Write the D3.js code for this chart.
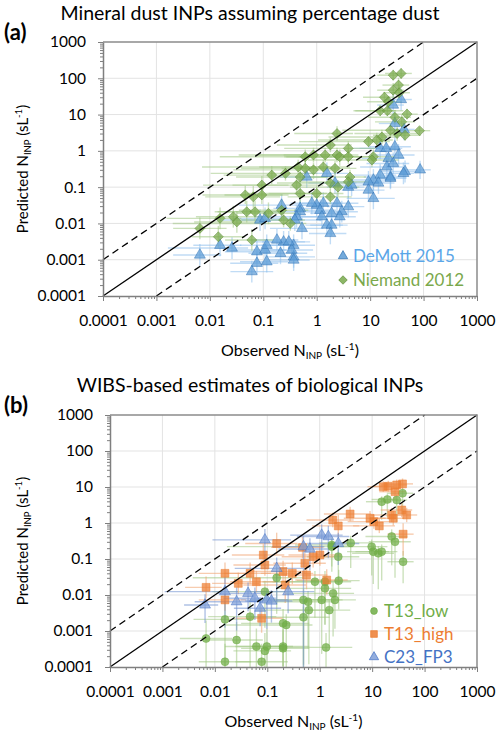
<!DOCTYPE html>
<html><head><meta charset="utf-8">
<script src="https://cdn.jsdelivr.net/npm/d3@7"></script>
<style>
body{margin:0;background:#fff}
svg{display:block}
text{font-family:Lato,"Open Sans",sans-serif}
</style>
</head><body>
<svg id="chart" width="500" height="737"></svg>
<script>
// ---------- axis ticks ----------
const tickValues = [1e-4, 1e-3, 1e-2, 1e-1, 1, 10, 100, 1000];
const tickLabels = ["0.0001", "0.001", "0.01", "0.1", "1", "10", "100", "1000"];

// ---------- data: [observed, predicted, x-err minus (decades), x-err plus, y-err minus, y-err plus] ----------
const demott2015 = [
  [38,26,0.3,0.2,0.3,0.3],[27,18.3,0.3,0.2,0.3,0.3],[29,5.7,0.3,0.2,0.3,0.3],[43,3.9,0.3,0.2,0.3,0.3],
  [15.4,1.17,0.5,0.3,0.3,0.3],[20,1.17,0.5,0.3,0.3,0.3],[29,1.3,0.5,0.3,0.3,0.3],[34,0.77,0.5,0.3,0.3,0.3],
  [22,0.62,0.5,0.3,0.3,0.3],[20.5,0.36,0.5,0.3,0.3,0.3],[27,0.45,0.5,0.3,0.3,0.3],[45,0.27,0.5,0.3,0.3,0.3],
  [86,0.30,0.3,0.2,0.25,0.25],[15.4,0.215,0.5,0.3,0.3,0.3],[24,0.19,0.5,0.3,0.3,0.3],[11.5,0.157,0.5,0.3,0.3,0.3],
  [9.3,0.14,0.6,0.3,0.3,0.3],[14.3,0.13,0.5,0.3,0.3,0.3],[3.9,0.10,0.4,0.3,0.3,0.3],[1.55,0.24,0.5,0.4,0.3,0.3],
  [2.2,0.13,0.5,0.4,0.3,0.3],[0.65,0.19,0.5,0.4,0.3,0.3],[9.3,0.083,0.5,0.3,0.3,0.3],[11.5,0.049,0.5,0.4,0.3,0.3],
  [4.5,0.114,0.4,0.4,0.3,0.3],[3.9,0.029,0.4,0.3,0.3,0.3],[2.4,0.036,0.4,0.4,0.3,0.3],[2.95,0.021,0.4,0.3,0.3,0.3],
  [1.9,0.019,0.4,0.3,0.3,0.3],[2.7,0.0153,0.4,0.3,0.3,0.3],[1.33,0.036,0.4,0.3,0.3,0.3],[1.0,0.032,0.4,0.3,0.3,0.3],
  [0.81,0.036,0.4,0.3,0.3,0.3],[1.16,0.023,0.4,0.3,0.3,0.3],[1.25,0.0153,0.4,0.3,0.3,0.3],[1.55,0.009,0.4,0.3,0.3,0.3],
  [1.9,0.009,0.4,0.3,0.3,0.3],[1.8,0.0053,0.4,0.3,0.3,0.3],[0.49,0.026,0.5,0.4,0.3,0.3],[0.49,0.021,0.5,0.4,0.3,0.3],
  [0.42,0.0153,0.8,0.5,0.3,0.3],[0.53,0.0073,0.6,0.4,0.3,0.3],[0.39,0.0124,1.0,0.5,0.3,0.3],[0.24,0.0031,0.6,0.4,0.3,0.3],
  [0.37,0.0025,0.6,0.4,0.3,0.3],[0.37,0.0012,0.5,0.4,0.3,0.3],[42,0.24,0.4,0.2,0.3,0.3],[24,0.175,0.4,0.3,0.3,0.3],
  [0.22,0.032,0.8,0.5,0.3,0.3],[0.087,0.0124,0.8,0.4,0.3,0.3],[0.108,0.0138,0.6,0.5,0.3,0.3],[0.0155,0.0025,0.5,0.4,0.3,0.3],
  [0.026,0.0021,1.2,0.3,0.3,0.3],[0.0065,0.00135,0.5,0.4,0.3,0.3],[0.076,0.00166,0.6,0.4,0.3,0.3],[0.108,0.00185,0.6,0.4,0.3,0.3],
  [0.21,0.0015,0.6,0.5,0.3,0.3],[0.34,0.00185,0.6,0.4,0.3,0.3],[0.116,0.00088,0.5,0.4,0.3,0.3],[0.076,0.0008,0.5,0.4,0.3,0.3],
  [0.061,0.00047,0.4,0.4,0.3,0.3],[0.37,0.00098,0.5,0.3,0.3,0.3],[0.18,0.0035,0.5,0.4,0.3,0.3],[0.30,0.0031,0.5,0.4,0.3,0.3],
  [0.116,0.0025,0.5,0.4,0.3,0.3]
];
const niemand2012 = [
  [27,122,0.3,0.2,0.15,0.15],[38,136,0.3,0.2,0.15,0.15],[34,65,0.3,0.2,0.2,0.2],[27,47,0.3,0.2,0.2,0.2],
  [35,40,0.3,0.2,0.2,0.2],[18.5,30,0.4,0.25,0.15,0.15],[22,22.5,0.4,0.25,0.15,0.15],[15.4,12.7,0.5,0.3,0.15,0.15],
  [21,12.7,0.6,0.3,0.15,0.15],[29,8.4,0.5,0.3,0.2,0.2],[49,10.3,0.4,0.2,0.15,0.15],[39,6.3,0.5,0.25,0.2,0.2],
  [84,3.6,0.3,0.2,0.1,0.1],[24,3.7,0.9,0.3,0.2,0.2],[32,3.0,0.8,0.4,0.2,0.2],[45,2.7,0.6,0.3,0.15,0.15],
  [16.6,2.4,1.0,0.3,0.2,0.2],[13.3,2.0,1.1,0.3,0.2,0.2],[9.3,1.8,1.3,0.4,0.15,0.15],[2.4,3.0,0.8,0.3,0.2,0.2],
  [1.8,1.45,1.0,0.4,0.2,0.2],[3.9,1.17,1.2,0.5,0.2,0.2],[0.61,0.69,1.6,0.5,0.2,0.2],[0.87,0.77,1.4,0.5,0.2,0.2],
  [1.44,0.77,1.3,0.5,0.2,0.2],[2.4,0.77,1.0,0.4,0.2,0.2],[2.7,0.69,1.0,0.4,0.25,0.2],[3.9,0.69,1.2,0.4,0.2,0.2],
  [11.5,0.69,1.4,0.4,0.2,0.2],[0.45,0.36,1.8,0.6,0.2,0.2],[0.61,0.33,1.2,0.5,0.2,0.2],[0.87,0.30,1.5,0.5,0.25,0.2],
  [1.33,0.36,1.2,0.5,0.2,0.2],[2.2,0.33,1.0,0.4,0.2,0.2],[0.26,0.24,1.4,0.6,0.2,0.2],[0.49,0.19,1.2,0.5,0.25,0.25],
  [4.2,0.19,0.8,0.3,0.2,0.2],[1.8,0.13,1.0,0.4,0.2,0.2],[2.5,0.10,0.9,0.4,0.25,0.2],[10.8,0.56,1.2,0.5,0.2,0.2],
  [0.42,0.114,1.2,0.5,0.2,0.2],[0.49,0.067,1.0,0.5,0.25,0.2],[1.0,0.067,0.9,0.5,0.2,0.2],[1.8,0.054,0.8,0.4,0.2,0.2],
  [0.32,0.010,2.2,0.3,0.2,0.2],[0.24,0.0124,1.0,0.4,0.2,0.2],[3.9,0.14,1.0,0.4,0.2,0.2],
  [0.144,0.215,0.9,0.6,0.25,0.25],[0.094,0.114,1.1,0.5,0.25,0.25],[0.046,0.061,0.8,0.7,0.25,0.25],[0.065,0.054,0.9,0.5,0.3,0.3],
  [0.094,0.061,0.7,0.5,0.25,0.25],[0.049,0.021,0.6,0.6,0.3,0.3],[0.070,0.021,0.7,0.5,0.3,0.3],[0.125,0.019,0.6,0.6,0.3,0.3],
  [0.22,0.023,0.8,0.5,0.3,0.3],[0.0275,0.0153,0.7,0.6,0.3,0.3],[0.0155,0.0138,1.0,0.4,0.3,0.3],[0.0065,0.0073,0.5,0.5,0.3,0.3],
  [0.0144,0.0043,0.5,0.5,0.3,0.3],[0.032,0.011,0.8,0.5,0.3,0.3],[0.061,0.0035,0.5,0.4,0.3,0.3]
];
const t13Low = [
  [15.2,3.9,0.3,0.2,0.5,0.15],[19.5,4.5,0.3,0.2,0.5,0.15],[29.4,4.35,0.3,0.2,0.6,0.15],[38,6.7,0.3,0.2,0.6,0.15],
  [23.6,0.42,0.5,0.3,0.8,0.2],[27.3,0.30,0.5,0.3,1.0,0.2],[9.8,0.22,0.6,0.3,0.8,0.2],[3.9,0.28,0.6,0.4,0.7,0.2],
  [1.7,0.22,2.0,0.4,0.7,0.2],[39,0.084,0.3,0.2,0.6,0.3],[10.5,0.16,0.5,0.3,0.9,0.2],[13.1,0.144,0.5,0.3,1.0,0.2],
  [15.2,0.16,0.5,0.3,0.8,0.2],[1.7,0.245,0.7,0.4,0.6,0.2],[2.26,0.116,0.6,0.4,0.8,0.2],[0.81,0.0234,1.0,0.5,1.0,0.3],
  [1.26,0.0234,1.0,0.5,1.2,0.3],[2.3,0.025,0.8,0.4,0.8,0.3],[1.26,0.0153,0.9,0.5,1.0,0.3],[1.8,0.0111,0.9,0.4,1.2,0.3],
  [1.95,0.0073,0.8,0.4,0.8,0.3],[1.09,0.0073,1.0,0.4,1.5,0.3],[0.49,0.0073,1.0,0.5,1.8,0.3],[0.6,0.0065,0.8,0.5,1.3,0.3],
  [0.62,0.0038,1.0,0.4,1.5,0.3],[1.52,0.0038,0.8,0.4,1.0,0.3],[0.49,0.0024,1.0,0.5,1.4,0.3],[0.23,0.00147,1.2,0.5,1.2,0.3],
  [1.32,0.00035,0.8,0.5,0.6,0.4],[0.2,0.00033,0.8,0.5,0.5,0.5],[0.0068,0.00062,0.5,0.5,0.8,0.5],[0.0156,0.0021,0.6,0.5,1.3,0.5],
  [0.026,0.00056,0.6,0.5,0.8,0.5],[0.0156,0.00014,0.5,0.5,0.3,0.5],[0.047,0.0025,0.8,0.5,1.4,0.4],[0.062,0.00037,0.6,0.5,0.6,0.5],
  [0.078,0.00014,0.5,0.5,0.3,0.5],[0.098,0.00037,0.6,0.5,0.6,0.5],[0.09,0.00028,0.6,0.5,0.5,0.5],[0.2,0.00037,0.6,0.5,0.6,0.5],
  [0.2,0.00163,0.8,0.5,1.2,0.4],[0.09,0.0124,1.0,0.5,1.0,0.3],[0.151,0.03,1.6,0.5,1.0,0.3]
];
const t13High = [
  [16.3,10.2,0.3,0.2,0.15,0.15],[20.3,10.5,0.3,0.2,0.15,0.15],[29.4,11.4,0.3,0.2,0.15,0.15],[38,12.2,0.3,0.2,0.15,0.15],
  [27.3,7.4,0.3,0.2,0.2,0.2],[3.8,1.78,0.5,0.4,0.2,0.2],[1.77,1.21,0.5,0.4,0.2,0.2],[2.26,0.83,0.5,0.4,0.3,0.3],
  [9.1,1.35,0.5,0.3,0.2,0.2],[10.8,1.09,0.5,0.3,0.2,0.2],[13.7,0.83,0.5,0.3,0.2,0.2],[23.6,1.67,0.4,0.2,0.2,0.2],
  [36.6,2.3,0.4,0.2,0.2,0.2],[45.6,1.67,0.3,0.2,0.2,0.2],[25.3,1.35,0.4,0.2,0.2,0.2],[39,0.49,0.3,0.2,0.6,0.3],
  [0.47,0.21,0.6,0.4,0.3,0.3],[0.52,0.076,0.6,0.4,0.3,0.3],[0.56,0.036,0.6,0.4,0.4,0.3],[0.75,0.116,0.6,0.4,0.3,0.3],
  [1.36,0.026,0.6,0.4,0.4,0.3],[1.01,0.129,0.6,0.4,0.3,0.3],[0.22,0.019,0.8,0.4,0.5,0.3],[0.151,0.27,0.6,0.4,0.3,0.3],
  [0.084,0.129,0.6,0.4,0.3,0.3],[0.09,0.068,0.6,0.4,0.3,0.3],[0.0156,0.04,0.5,0.4,0.3,0.3],[0.047,0.04,0.5,0.4,0.3,0.3],
  [0.062,0.0234,0.5,0.4,0.3,0.3],[0.028,0.021,0.5,0.4,0.3,0.3],[0.0068,0.0163,0.4,0.3,0.3,0.3],[0.0156,0.0073,0.5,0.4,0.3,0.3],
  [0.078,0.00225,0.5,0.4,0.4,0.3],[0.2,0.045,0.6,0.4,0.3,0.3],[0.3,0.04,0.6,0.4,0.3,0.3]
];
const c23FP3 = [
  [1.09,0.46,0.6,0.4,0.6,0.3],[1.46,0.42,0.6,0.4,0.6,0.3],[0.49,0.22,0.6,0.4,3.5,0.3],[0.65,0.19,0.6,0.4,0.6,0.3],
  [2.26,0.27,0.6,0.4,0.6,0.3],[0.25,0.0124,0.8,0.5,0.6,0.3],[0.090,0.34,1.0,0.5,0.8,0.3],[0.151,0.055,0.8,0.5,1.0,0.3],
  [0.0156,0.0124,1.15,0.25,1.0,0.4],[0.026,0.0065,0.8,0.5,0.8,0.4],[0.0065,0.0053,0.4,0.25,0.5,0.3],[0.043,0.0111,0.6,0.4,0.5,0.3],
  [0.058,0.0081,0.6,0.4,0.6,0.3],[0.073,0.0043,0.5,0.4,0.5,0.3],[0.098,0.0073,0.5,0.4,0.8,0.3],[0.12,0.0068,0.5,0.4,0.6,0.3]
];

// ---------- layout & styles ----------
const svg = d3.select("#chart");
const FONT = "Lato, 'Open Sans', sans-serif";
const diamondPath = "M0,-5L5,0L0,5L-5,0Z";
const shapes = {
  triangle: d3.symbol(d3.symbolTriangle, 52)(),
  diamond: diamondPath,
  circle: d3.symbol(d3.symbolCircle, 50)(),
  square: d3.symbol(d3.symbolSquare, 62)()
};

const panels = [
  {
    box: {left: 103, right: 477, top: 42, bottom: 296},
    tag: "(a)", tagY: 40,
    title: "Mineral dust INPs assuming percentage dust", titleY: 20,
    series: [
      {name: "DeMott 2015", data: demott2015, shape: "triangle", fill: "#5b9bd5", stroke: "#2e6fb0", bar: "#8ec0ec", text: "#5aa6e8"},
      {name: "Niemand 2012", data: niemand2012, shape: "diamond", fill: "#78a94b", stroke: "#5d8a36", bar: "#a3c985", text: "#7aa84b"}
    ],
    legend: {x: 343, textX: 353, ys: [256, 280]}
  },
  {
    box: {left: 110, right: 477, top: 415, bottom: 667},
    tag: "(b)", tagY: 413,
    title: "WIBS-based estimates of biological INPs", titleY: 392,
    series: [
      {name: "T13_low", data: t13Low, shape: "circle", fill: "#70ad47", stroke: "#70ad47", bar: "#a3c985", text: "#70ad47"},
      {name: "T13_high", data: t13High, shape: "square", fill: "#ed7d31", stroke: "#ed7d31", bar: "#f0a26d", text: "#ed7d31"},
      {name: "C23_FP3", data: c23FP3, shape: "triangle", fill: "#7f9fd8", stroke: "#4472c4", bar: "#6f8fd0", text: "#4472c4"}
    ],
    legend: {x: 374, textX: 384, ys: [611, 634, 657]}
  }
];

const minorTicks = [];
tickValues.slice(0, -1).forEach(d => { for (let k = 2; k <= 9; k++) minorTicks.push(d * k); });

panels.forEach((p, pi) => {
  const b = p.box;
  const g = svg.append("g");
  const x = d3.scaleLog().domain([1e-4, 1e3]).range([b.left, b.right]);
  const y = d3.scaleLog().domain([1e-4, 1e3]).range([b.bottom, b.top]);

  // gridlines
  const inner = tickValues.slice(1, -1);
  g.append("g").selectAll("line").data(inner).join("line")
    .attr("x1", d => x(d)).attr("x2", d => x(d)).attr("y1", b.top).attr("y2", b.bottom)
    .attr("stroke", "#e3e3e3").attr("stroke-width", 1);
  g.append("g").selectAll("line").data(inner).join("line")
    .attr("y1", d => y(d)).attr("y2", d => y(d)).attr("x1", b.left).attr("x2", b.right)
    .attr("stroke", "#e3e3e3").attr("stroke-width", 1);

  // clip
  const clipId = "clip" + pi;
  svg.append("defs").append("clipPath").attr("id", clipId)
    .append("rect").attr("x", b.left).attr("y", b.top).attr("width", b.right - b.left).attr("height", b.bottom - b.top);
  const plot = g.append("g").attr("clip-path", `url(#${clipId})`);

  // error bars
  p.series.forEach(s => {
    const eb = plot.append("g").attr("stroke", s.bar).attr("stroke-width", 1.4).attr("stroke-opacity", 0.55);
    eb.selectAll("line.h").data(s.data).join("line").attr("class", "h")
      .attr("x1", d => x(d[0] / Math.pow(10, d[2]))).attr("x2", d => x(d[0] * Math.pow(10, d[3])))
      .attr("y1", d => y(d[1])).attr("y2", d => y(d[1]));
    eb.selectAll("line.v").data(s.data).join("line").attr("class", "v")
      .attr("x1", d => x(d[0])).attr("x2", d => x(d[0]))
      .attr("y1", d => y(d[1] / Math.pow(10, d[4]))).attr("y2", d => y(d[1] * Math.pow(10, d[5])));
  });
  // markers
  p.series.forEach(s => {
    plot.append("g").selectAll("path").data(s.data).join("path")
      .attr("d", shapes[s.shape])
      .attr("transform", d => `translate(${x(d[0])},${y(d[1])})`)
      .attr("fill", s.fill).attr("fill-opacity", 0.72)
      .attr("stroke", s.stroke).attr("stroke-opacity", 0.6).attr("stroke-width", 0.8);
  });

  // reference lines 1:1 and factor 10
  const refLines = [
    {a: [1e-4, 1e-4], b: [1e3, 1e3], dash: null},
    {a: [1e-4, 1e-3], b: [1e2, 1e3], dash: "7,4.5"},
    {a: [1e-3, 1e-4], b: [1e3, 1e2], dash: "7,4.5"}
  ];
  refLines.forEach(r => {
    g.append("line").attr("x1", x(r.a[0])).attr("y1", y(r.a[1])).attr("x2", x(r.b[0])).attr("y2", y(r.b[1]))
      .attr("stroke", "#000").attr("stroke-width", 1.3).attr("stroke-dasharray", r.dash);
  });

  // border top & right
  g.append("path").attr("d", `M${b.left},${b.top}H${b.right}V${b.bottom}`)
    .attr("fill", "none").attr("stroke", "#8c8c8c").attr("stroke-width", 1.5);

  // axes: minor ticks
  const fmt = d => tickLabels[tickValues.indexOf(d)];
  const yMinor = g.append("g").attr("transform", `translate(${b.left},0)`)
    .call(d3.axisLeft(y).tickValues(minorTicks).tickSize(3).tickFormat(""));
  const xMinor = g.append("g").attr("transform", `translate(0,${b.bottom})`)
    .call(d3.axisBottom(x).tickValues(minorTicks).tickSize(3).tickFormat(""));
  [yMinor, xMinor].forEach(a => { a.select(".domain").remove(); a.selectAll("line").attr("stroke", "#7f7f7f"); });

  const yAx = g.append("g").attr("transform", `translate(${b.left},0)`)
    .call(d3.axisLeft(y).tickValues(tickValues).tickSize(5).tickSizeOuter(0).tickPadding(12).tickFormat(fmt));
  const xAx = g.append("g").attr("transform", `translate(0,${b.bottom})`)
    .call(d3.axisBottom(x).tickValues(tickValues).tickSize(5).tickSizeOuter(0).tickPadding(14).tickFormat(fmt));
  [yAx, xAx].forEach(a => {
    a.select(".domain").attr("stroke", "#7f7f7f").attr("stroke-width", 1.5);
    a.selectAll(".tick line").attr("stroke", "#7f7f7f");
    a.selectAll("text").attr("font-family", FONT).attr("font-size", 15.5).attr("fill", "#000");
  });

  // axis titles
  const xt = svg.append("text").attr("x", (b.left + b.right) / 2).attr("y", b.bottom + 60)
    .attr("text-anchor", "middle").attr("font-size", 16).attr("fill", "#000");
  xt.append("tspan").text("Observed N");
  xt.append("tspan").attr("font-size", 10).attr("dy", 3).text("INP");
  xt.append("tspan").attr("dy", -3).text(" (sL");
  xt.append("tspan").attr("font-size", 10).attr("dy", -6).text("-1");
  xt.append("tspan").attr("dy", 6).text(")");

  const cy = (b.top + b.bottom) / 2;
  const yt = svg.append("text").attr("transform", `translate(28,${cy}) rotate(-90)`)
    .attr("text-anchor", "middle").attr("font-size", 15).attr("fill", "#000");
  yt.append("tspan").text("Predicted N");
  yt.append("tspan").attr("font-size", 9.5).attr("dy", 3).text("INP");
  yt.append("tspan").attr("dy", -3).text(" (sL");
  yt.append("tspan").attr("font-size", 9.5).attr("dy", -6).text("-1");
  yt.append("tspan").attr("dy", 6).text(")");

  // titles
  svg.append("text").attr("x", 250).attr("y", p.titleY).attr("text-anchor", "middle")
    .attr("font-size", 19.5).attr("fill", "#000").text(p.title);
  svg.append("text").attr("x", 4).attr("y", p.tagY).attr("font-size", 22).attr("font-weight", "bold")
    .attr("fill", "#000").text(p.tag);

  // legend
  p.series.forEach((s, i) => {
    const ly = p.legend.ys[i];
    svg.append("path").attr("d", shapes[s.shape])
      .attr("transform", `translate(${p.legend.x},${ly}) scale(0.85)`)
      .attr("fill", s.fill).attr("fill-opacity", 0.85).attr("stroke", s.stroke).attr("stroke-width", 0.8);
    svg.append("text").attr("x", p.legend.textX).attr("y", ly + 6)
      .attr("font-size", 17).attr("fill", s.text).text(s.name);
  });
});
</script>
</body></html>
